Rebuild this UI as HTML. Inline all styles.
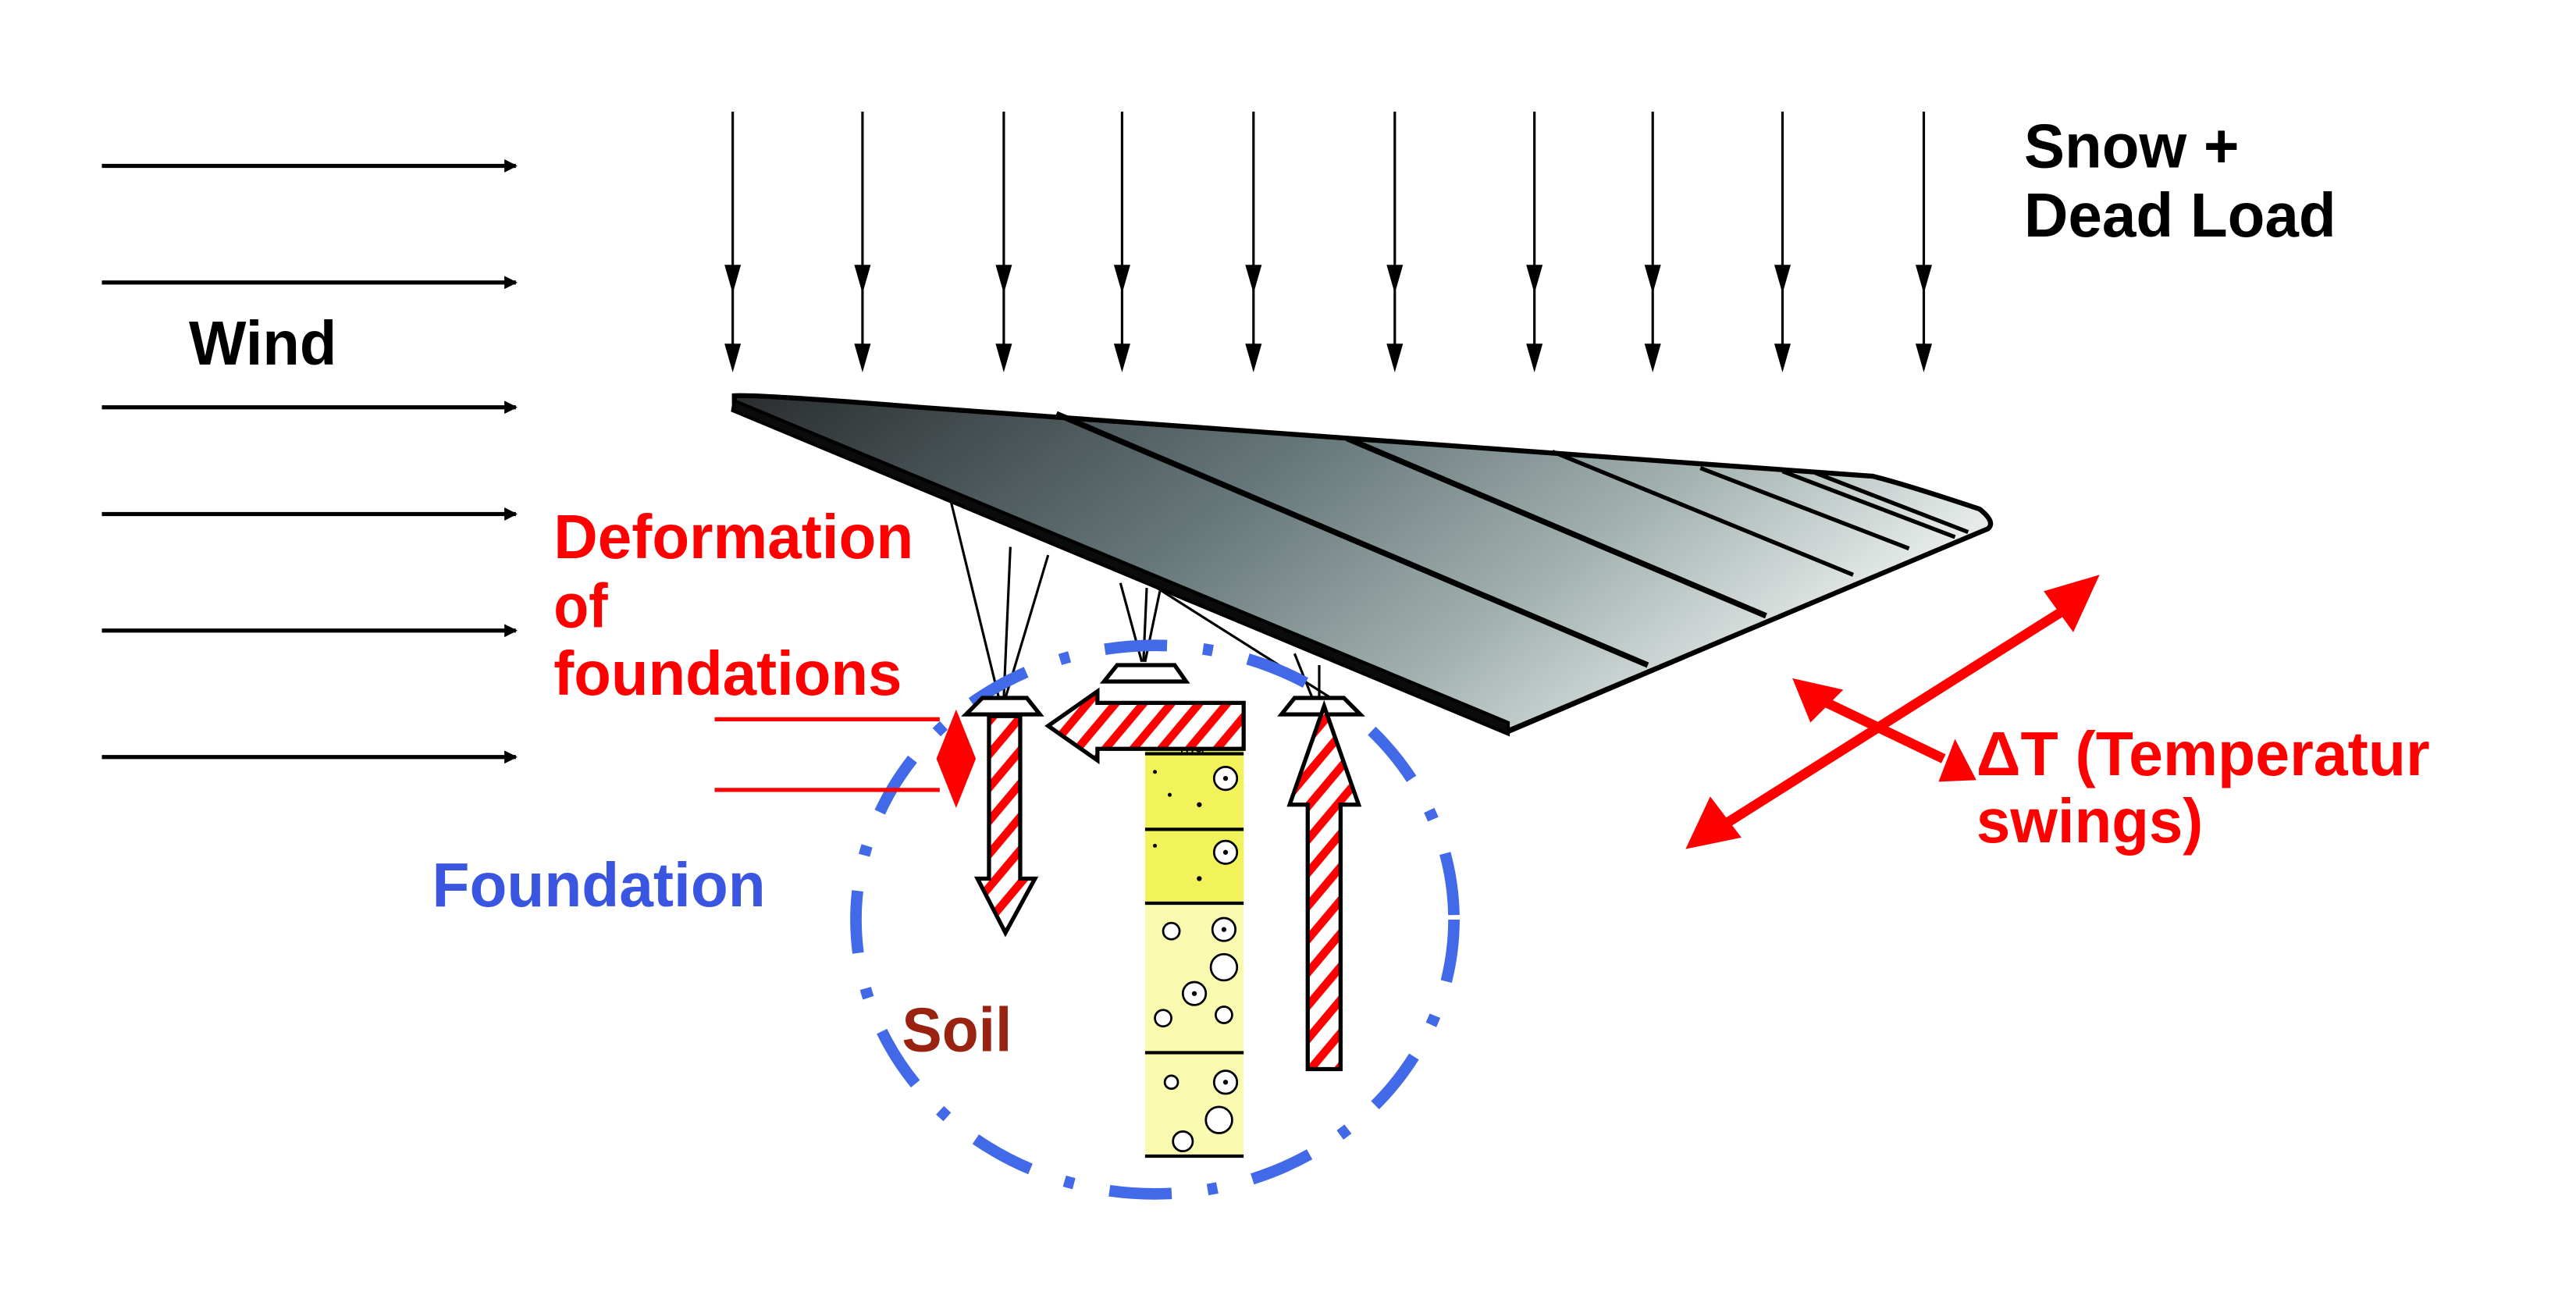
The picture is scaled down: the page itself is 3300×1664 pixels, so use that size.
<!DOCTYPE html>
<html><head><meta charset="utf-8"><style>html,body{margin:0;padding:0;background:#fff;}svg{display:block}</style></head>
<body>
<svg width="3300" height="1664" viewBox="0 0 1568 791" preserveAspectRatio="none" xmlns="http://www.w3.org/2000/svg">
<defs>
<linearGradient id="pg" x1="0" y1="0" x2="1" y2="0.35">
<stop offset="0" stop-color="#2a2d2f"/><stop offset="0.45" stop-color="#66777a"/><stop offset="0.75" stop-color="#a3b2b0"/><stop offset="1" stop-color="#e6ebea"/></linearGradient>
<pattern id="st" width="13" height="13" patternUnits="userSpaceOnUse" patternTransform="rotate(40)">
<rect width="13" height="13" fill="#fff"/><rect width="5" height="13" fill="#f00"/></pattern>
<marker id="ah" markerWidth="8" markerHeight="8" refX="7" refY="4" orient="auto" markerUnits="userSpaceOnUse"><path d="M0,0 L8,4 L0,8z" fill="#000"/></marker>
</defs>
<rect width="1568" height="791" fill="#fff"/>
<g stroke="#000" stroke-width="2.5" marker-end="url(#ah)">
<line x1="62" y1="101" x2="314" y2="101"/><line x1="62" y1="172" x2="314" y2="172"/>
<line x1="62" y1="248" x2="314" y2="248"/><line x1="62" y1="313" x2="314" y2="313"/>
<line x1="62" y1="384" x2="314" y2="384"/><line x1="62" y1="461" x2="314" y2="461"/>
</g>
<g stroke="#000" stroke-width="1.5">
<g id="va"><line x1="446" y1="68" x2="446" y2="222"/><path d="M442,162 L446,176 L450,162z M442,210 L446,224 L450,210z" fill="#000"/></g>
<use href="#va" x="79"/><use href="#va" x="165"/><use href="#va" x="237"/><use href="#va" x="317"/><use href="#va" x="403"/><use href="#va" x="488"/><use href="#va" x="560"/><use href="#va" x="639"/><use href="#va" x="725"/>
</g>
<g font-family="'Liberation Sans Narrow','Liberation Sans',sans-serif" font-weight="bold" font-size="38">
<text x="115" y="222" textLength="90" lengthAdjust="spacingAndGlyphs">Wind</text>
<text x="1232" y="102" textLength="131" lengthAdjust="spacingAndGlyphs">Snow +</text>
<text x="1232" y="144" textLength="190" lengthAdjust="spacingAndGlyphs">Dead Load</text>
<g fill="#f00"><text x="337" y="340" textLength="219" lengthAdjust="spacingAndGlyphs">Deformation</text>
<text x="337" y="382" textLength="33" lengthAdjust="spacingAndGlyphs">of</text>
<text x="337" y="423" textLength="212" lengthAdjust="spacingAndGlyphs">foundations</text>
<text x="1203" y="472" textLength="276" lengthAdjust="spacingAndGlyphs">ΔT (Temperatur</text>
<text x="1203" y="513" textLength="138" lengthAdjust="spacingAndGlyphs">swings)</text></g>
<text x="263" y="552" fill="#3a55e0" textLength="203" lengthAdjust="spacingAndGlyphs">Foundation</text>
<text x="549" y="640" fill="#992211" textLength="67" lengthAdjust="spacingAndGlyphs">Soil</text>
</g>
<g stroke="#000" stroke-width="1.5" fill="none">
<line x1="578" y1="302" x2="608" y2="425"/><line x1="615" y1="333" x2="611" y2="425"/><line x1="638" y1="338" x2="612" y2="425"/>
<line x1="682" y1="355" x2="695" y2="403"/><line x1="698" y1="358" x2="696" y2="403"/><line x1="706" y1="360" x2="697" y2="403"/>
<line x1="660" y1="330" x2="818" y2="430"/><line x1="788" y1="398" x2="800" y2="428"/><line x1="803" y1="405" x2="803" y2="428"/>
</g>
<path d="M447,241 Q460,240 560,248 L1140,290 Q1160,295 1205,310 Q1215,318 1210,322 L918,445 Q910,440 447,245z" fill="url(#pg)" stroke="#000" stroke-width="3"/>
<path d="M447,244 L918,440 L918,447 L446,250z" fill="#0a0c0b" stroke="#000" stroke-width="2"/>
<path d="M918,446 L1210,322" stroke="#000" stroke-width="2" fill="none"/>
<g stroke="#000" stroke-width="3.5" fill="none">
<line x1="643" y1="252" x2="1003" y2="405"/><line x1="820" y1="267" x2="1075" y2="375"/>
</g>
<g stroke="#000" stroke-width="2.5" fill="none">
<line x1="945" y1="275" x2="1128" y2="350"/><line x1="1035" y1="285" x2="1162" y2="334"/>
<line x1="1085" y1="287" x2="1190" y2="327"/><line x1="1105" y1="288" x2="1198" y2="324"/>
</g>
<ellipse cx="703" cy="560" rx="182" ry="167" fill="none" stroke="#4169e8" stroke-width="7" stroke-dasharray="38 22 6 22"/>
<rect x="697" y="448" width="60" height="257" fill="#f9f9b0"/>
<rect x="697" y="448" width="60" height="102" fill="#f2f25a"/>
<rect x="697" y="448" width="60" height="10" fill="#e4ec78"/>
<text x="718" y="458" font-family="Liberation Sans,sans-serif" font-size="11">Mu</text>
<g stroke="#000" stroke-width="2"><line x1="697" y1="459" x2="757" y2="459"/><line x1="697" y1="505" x2="757" y2="505"/><line x1="697" y1="550" x2="757" y2="550"/><line x1="697" y1="641" x2="757" y2="641"/><line x1="697" y1="704" x2="757" y2="704"/></g>
<g fill="#fff" stroke="#000" stroke-width="1.3">
<circle cx="746" cy="474" r="7"/><circle cx="746" cy="519" r="7"/><circle cx="713" cy="567" r="5"/><circle cx="745" cy="566" r="7"/>
<circle cx="745" cy="589" r="8"/><circle cx="727" cy="605" r="7"/><circle cx="708" cy="620" r="5"/><circle cx="745" cy="618" r="5"/>
<circle cx="713" cy="659" r="4"/><circle cx="746" cy="659" r="7"/><circle cx="742" cy="682" r="8"/><circle cx="720" cy="695" r="6"/></g>
<g fill="#000"><circle cx="746" cy="474" r="1.5"/><circle cx="746" cy="519" r="1.5"/><circle cx="745" cy="566" r="1.5"/><circle cx="727" cy="605" r="1.5"/><circle cx="746" cy="659" r="1.5"/><circle cx="703" cy="470" r="1.2"/><circle cx="712" cy="484" r="1.2"/><circle cx="730" cy="490" r="1.5"/><circle cx="703" cy="515" r="1.2"/><circle cx="730" cy="535" r="1.5"/></g>
<g fill="#fff" stroke="#000" stroke-width="2.5">
<path d="M598,425 L625,425 L633,435 L588,435z"/><path d="M680,405 L715,405 L722,415 L672,415z"/><path d="M788,425 L818,425 L828,435 L780,435z"/>
</g>
<g stroke="#000" stroke-width="2.5" fill="url(#st)">
<path d="M602,436 L621,436 L621,535 L630,535 L612,568 L595,535 L602,535z"/>
<path d="M757,428 L757,456 L668,456 L668,463 L638,442 L668,421 L668,428z"/>
<path d="M796,651 L816,651 L816,490 L827,490 L806,430 L785,490 L796,490z"/>
</g>
<g stroke="#f00" stroke-width="2.5"><line x1="435" y1="438" x2="572" y2="438"/><line x1="435" y1="481" x2="572" y2="481"/></g>
<path d="M582,432 L594,462 L570,462z M582,492 L594,462 L570,462z" fill="#f00"/>
<g stroke="#f00" stroke-width="6"><line x1="1045" y1="505" x2="1262" y2="368"/><line x1="1112" y1="428" x2="1183" y2="462"/></g>
<path d="M1278,350 L1244,360 L1262,385z M1026,517 L1060,510 L1041,485z M1091,413 L1102,440 L1122,420z M1203,475 L1180,476 L1190,450z" fill="#f00"/>
</svg>
</body></html>
